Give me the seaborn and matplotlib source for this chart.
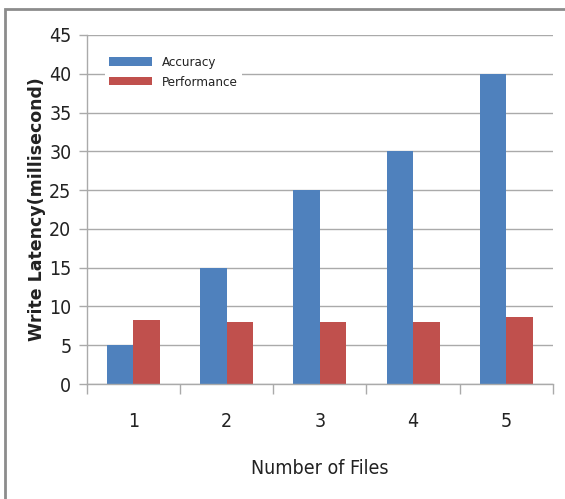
import matplotlib
matplotlib.use("Agg")
import matplotlib.pyplot as plt
import seaborn as sns
import pandas as pd
from matplotlib.patches import Rectangle

categories = ["1", "2", "3", "4", "5"]
accuracy = [5, 15, 25, 30, 40]
performance = [8.2, 8.0, 8.0, 8.0, 8.6]
series_names = ["Accuracy", "Performance"]
yticks = [0, 5, 10, 15, 20, 25, 30, 35, 40, 45]

df = pd.DataFrame({
    "files": categories * 2,
    "value": accuracy + performance,
    "series": [series_names[0]] * 5 + [series_names[1]] * 5,
})

sns.set_style("white")
plt.rcParams["font.family"] = ["DejaVu Sans"]
plt.rcParams["font.stretch"] = "condensed"
plt.rcParams["text.color"] = "#222222"

fig = plt.figure(figsize=(5.65, 4.99), dpi=100)
ax = fig.add_axes([86.7 / 565, 1 - 384 / 499, (553 - 86.7) / 565, (384 - 35) / 499])

sns.barplot(data=df, x="files", y="value", hue="series",
            palette=["#4F81BD", "#C0504D"], width=0.57, ax=ax,
            saturation=1, edgecolor="none", linewidth=0)

ax.set_ylim(0, 45)
ax.set_xlim(-0.5, 4.5)
ax.set_yticks(yticks)
ax.set_yticklabels([str(v) for v in yticks], fontsize=14, fontstretch="condensed")
ax.yaxis.grid(True, color="#AAAAAA", linewidth=1.0)
ax.set_axisbelow(True)
ax.set_xticks(range(5))
ax.set_xticklabels(categories, fontsize=14, fontstretch="condensed")
ax.tick_params(axis="x", length=0, pad=20, labelcolor="#222222")
ax.tick_params(axis="y", length=6, color="#AAAAAA", width=1.0, pad=5, left=True,
               labelcolor="#222222")

# category boundary ticks
ax.set_xticks([-0.5, 0.5, 1.5, 2.5, 3.5, 4.5], minor=True)
ax.tick_params(axis="x", which="minor", length=7, color="#AAAAAA", width=1.0, bottom=True)

for s in ["top", "right"]:
    ax.spines[s].set_visible(False)
for s in ["left", "bottom"]:
    ax.spines[s].set_color("#AAAAAA")
    ax.spines[s].set_linewidth(1.0)

ax.set_xlabel("Number of Files", fontsize=14, labelpad=20, fontstretch="condensed",
              color="#222222")
ax.set_ylabel("Write Latency(millisecond)", fontsize=12.5, fontweight="bold",
              fontstretch="normal", labelpad=2, color="#222222")

leg = ax.legend(loc="upper left", bbox_to_anchor=(0.025, 0.97), frameon=True,
                prop={"size": 9.5, "stretch": "condensed"}, handlelength=3.3, handleheight=0.6,
                handletextpad=0.7, labelspacing=0.5, borderpad=0.3)
leg.get_frame().set_facecolor("white")
leg.get_frame().set_edgecolor("none")
leg.get_frame().set_alpha(1)

fig.patches.append(Rectangle((5 / 565, -0.1), 1.2, 1.1 - 9 / 499, transform=fig.transFigure,
                             fill=False, edgecolor="#8C8C8C", linewidth=2))

fig.savefig("out.png", dpi=100)
